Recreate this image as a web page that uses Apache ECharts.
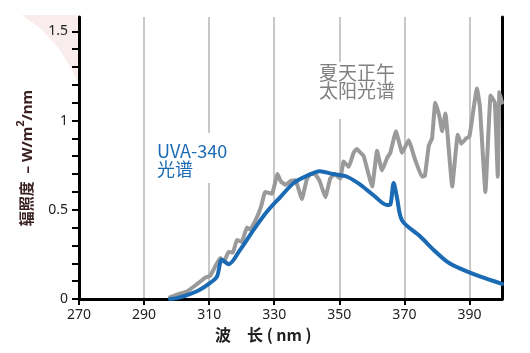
<!DOCTYPE html>
<html>
<head>
<meta charset="utf-8">
<script src="https://cdn.jsdelivr.net/npm/echarts@6/dist/echarts.min.js"></script>
<style>html,body{margin:0;padding:0;background:#fff}#c{width:530px;height:353px}</style>
</head>
<body>
<div id="c"></div>
<script>
// Sunlight (summer noon) spectrum: wavelength (nm) and irradiance (W/m2/nm)
var sunNm  = [298,301,303,306,308.8,310.3,311.8,313.4,314.6,316,317.3,318.5,320,321.6,322.6,324.5,326,327.2,329.3,331,332,333.4,335,336.5,338.5,340,341.1,342.5,344,345.7,347.2,348.5,350.3,351.3,352.9,354.4,355.4,356.5,357.5,360.1,361.6,363.1,364.7,365.7,367.4,369.3,371.3,373.3,375.4,376.3,377.5,378.5,379.5,380.8,381.6,382.6,384.7,386.4,387.5,389,390,392.3,393.2,394.9,396.5,397.8,398.7,399.2,400];
var sunVal = [0.01,0.03,0.04,0.08,0.12,0.13,0.18,0.23,0.21,0.265,0.26,0.33,0.32,0.40,0.39,0.45,0.52,0.60,0.59,0.70,0.66,0.64,0.66,0.665,0.56,0.67,0.70,0.70,0.66,0.57,0.675,0.70,0.675,0.77,0.74,0.82,0.84,0.82,0.80,0.63,0.83,0.72,0.79,0.82,0.94,0.82,0.89,0.78,0.685,0.69,0.86,0.90,1.10,1.02,0.94,1.04,0.63,0.92,0.87,0.90,0.91,1.18,1.08,0.60,1.14,1.10,0.685,1.16,1.10];
// UVA-340 lamp spectrum
var uvaNm  = [298,300,303,307,310.3,312.4,313.9,316,319.5,323.6,327.8,331.8,336,340,344,348,352.4,356.5,360.6,364.7,365.7,366.7,367.7,369.3,374.9,379,383.1,387.2,393.4,400];
var uvaVal = [0.0,0.005,0.02,0.05,0.09,0.125,0.22,0.195,0.275,0.386,0.49,0.57,0.65,0.69,0.716,0.70,0.685,0.64,0.58,0.526,0.53,0.65,0.57,0.44,0.35,0.275,0.21,0.17,0.125,0.085];
// Axis ticks and labels
var xTicks = [270,290,310,330,350,370,390];
var yTicks = [0,0.1,0.2,0.3,0.4,0.5,0.6,0.7,0.8,0.9,1.0,1.1,1.2,1.3,1.4,1.5];
var yLabels = [0,0.5,1,1.5];
var sunLabel = '夏天正午\n太阳光谱';
var uvaLabel = 'UVA-340\n光谱';
var xName = '波　长 ( nm )';

function pairs(a,b){return a.map(function(v,i){return [v,b[i]];});}

var chart = echarts.init(document.getElementById('c'));
var FONT = '"Noto Sans","Noto Sans CJK SC",sans-serif';
chart.setOption({
  animation:false,
  backgroundColor:'#fff',
  grid:{left:79,right:28,top:17,bottom:54},
  xAxis:{
    type:'value',min:270,max:400,interval:20,
    axisLine:{show:true,onZero:false,lineStyle:{color:'#000',width:3}},
    axisTick:{show:true,length:6,lineStyle:{color:'#000',width:2},customValues:xTicks},
    axisLabel:{color:'#222',fontSize:14,fontFamily:FONT,margin:9,customValues:xTicks,formatter:function(v){return String(v);}},
    splitLine:{show:true,lineStyle:{color:'#c8c8c8',width:2}}
  },
  yAxis:[{
    type:'value',min:0,max:1.58,interval:0.1,position:'left',
    name:'{a|辐照度  – W/m}{s|2}{a|/nm}',nameLocation:'middle',nameGap:44,nameRotate:90,
    nameTextStyle:{rich:{a:{fontSize:15,fontWeight:'bold',color:'#3b2222',fontFamily:FONT,verticalAlign:'bottom',lineHeight:20},s:{fontSize:11,fontWeight:'bold',color:'#3b2222',fontFamily:FONT,verticalAlign:'top',lineHeight:20}}},
    axisLine:{show:true,lineStyle:{color:'#000',width:3}},
    axisTick:{show:true,length:7,lineStyle:{color:'#000',width:2},customValues:yTicks},
    axisLabel:{color:'#222',fontSize:14,fontFamily:FONT,margin:11,customValues:yLabels,formatter:function(v){return String(v);}},
    splitLine:{show:false}
  },{
    type:'value',min:0,max:1.58,position:'right',
    axisLine:{show:true,lineStyle:{color:'#000',width:3}},
    axisTick:{show:false},axisLabel:{show:false},splitLine:{show:false}
  }],
  graphic:[
    {type:'polygon',z:-10,shape:{points:[[22,15],[79,15],[79,84],[70,66],[57,46],[40,28]]},style:{fill:'#f8ecec'}},
    {type:'rect',z:100,shape:{x:313,y:62,width:88,height:57},style:{fill:'#fff'}},
    {type:'text',z:101,left:319,top:63,style:{text:sunLabel,fill:'#808080',font:'19px "Noto Sans CJK SC",sans-serif',lineHeight:18}},
    {type:'rect',z:100,shape:{x:152,y:133,width:86,height:50},style:{fill:'#fff'}},
    {type:'text',z:101,left:157,top:142,style:{text:uvaLabel,fill:'#1b6ab4',font:'18px "Noto Sans CJK SC",sans-serif',lineHeight:18}},
    {type:'text',z:101,left:215,top:327,style:{text:xName,fill:'#222',font:'bold 16px "Noto Sans CJK SC",sans-serif'}}
  ],
  series:[
    {type:'line',data:pairs(sunNm,sunVal),showSymbol:false,symbol:'none',smooth:0.1,
     lineStyle:{color:'#9a9a9a',width:4,join:'round',cap:'round'},z:3,clip:true},
    {type:'line',data:pairs(uvaNm,uvaVal),showSymbol:false,symbol:'none',smooth:0.3,
     lineStyle:{color:'#1b6ab4',width:4,join:'round',cap:'round'},z:4,clip:true}
  ]
});
</script>
</body>
</html>
